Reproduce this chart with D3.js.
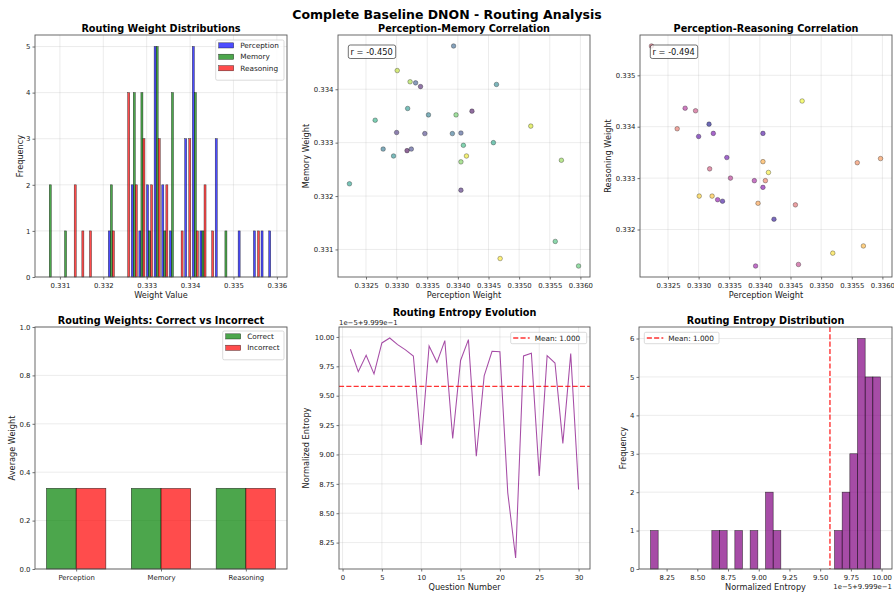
<!DOCTYPE html>
<html>
<head>
<meta charset="utf-8">
<script src="https://cdn.jsdelivr.net/npm/d3@7"></script>
<style>
  body { margin: 0; background: #fff; }
  svg { display: block; }
  text { font-family: "DejaVu Sans", sans-serif; }
</style>
</head>
<body>
<svg id="chart" width="894" height="592"></svg>
<script>
// ---- Data: one entry per evaluated question (questions 1..30) ----
const questionNumbers = d3.range(1, 31);

const perceptionWeights = [
  0.33317, 0.33423, 0.33339, 0.33405, 0.33300, 0.33346, 0.33324, 0.33405, 0.33331, 0.33393,
  0.33391, 0.33278, 0.33352, 0.33463, 0.33295, 0.33318, 0.33223, 0.33458, 0.33265, 0.33409,
  0.33559, 0.33597, 0.33397, 0.33405, 0.33569, 0.33322, 0.33301, 0.33519, 0.33414, 0.33469
];
const memoryWeights = [
  0.33285, 0.33359, 0.33405, 0.33211, 0.33319, 0.33317, 0.33288, 0.33318, 0.33412, 0.33481,
  0.33317, 0.33288, 0.33352, 0.33409, 0.33275, 0.33364, 0.33223, 0.33300, 0.33342, 0.33295,
  0.33115, 0.33069, 0.33352, 0.33264, 0.33267, 0.33414, 0.33435, 0.33331, 0.33275, 0.33083
];
const reasoningWeights = [
  0.33405, 0.33220, 0.33255, 0.33387, 0.33381, 0.33340, 0.33387, 0.33282, 0.33258, 0.33129,
  0.33295, 0.33436, 0.33300, 0.33132, 0.33431, 0.33318, 0.33557, 0.33248, 0.33396, 0.33295,
  0.33330, 0.33338, 0.33251, 0.33332, 0.33168, 0.33265, 0.33265, 0.33154, 0.33311, 0.33450
];
// Normalized routing entropy per question
const routingEntropy = [
  0.99999895, 0.99999705, 0.99999844, 0.99999686, 0.99999949, 0.99999991, 0.99999935, 0.99999890, 0.99999838, 0.99999080,
  0.99999923, 0.99999784, 0.99999969, 0.99999136, 0.99999800, 0.99999977, 0.99998985, 0.99999668, 0.99999878, 0.99999875,
  0.99998673, 0.99998119, 0.99999838, 0.99999861, 0.99998818, 0.99999841, 0.99999778, 0.99999094, 0.99999858, 0.99998702
];

// Reported Pearson coefficients: perception vs memory, perception vs reasoning
const reportedCorrelations = [-0.450, -0.494];

const moduleNames = ["Perception", "Memory", "Reasoning"];
const correctAvgWeights = [0.3334, 0.3331, 0.3335];
const incorrectAvgWeights = [0.3335, 0.3330, 0.3334];

// Tick labels
const weightTicks = [0.331, 0.332, 0.333, 0.334, 0.335, 0.336];
const countTicks5 = [0, 1, 2, 3, 4, 5];
const countTicks6 = [0, 1, 2, 3, 4, 5, 6];
const perceptionTicks = [0.3325, 0.3330, 0.3335, 0.3340, 0.3345, 0.3350, 0.3355, 0.3360];
const memoryTicks = [0.331, 0.332, 0.333, 0.334];
const reasoningTicks = [0.332, 0.333, 0.334, 0.335];
const avgWeightTicks = [0.0, 0.2, 0.4, 0.6, 0.8, 1.0];
const questionTicks = [0, 5, 10, 15, 20, 25, 30];
const entropyTicks = [8.25, 8.50, 8.75, 9.00, 9.25, 9.50, 9.75, 10.00];
const entropyOffset = 0.9999, entropyScale = 1e-5;
const entropyOffsetLabel = "1e\u22125+9.999e\u22121";

// ---- Layout ----
const FONT = '"DejaVu Sans", sans-serif';
const TICK_FS = 6.9, LABEL_FS = 8.2, TITLE_FS = 9.7, LEGEND_FS = 7.3;
const layout = {
  hist:  { x: 35,  y: 35,  w: 252, h: 242 },
  pm:    { x: 338, y: 35,  w: 252, h: 242 },
  pr:    { x: 640, y: 35,  w: 252, h: 242 },
  bars:  { x: 35,  y: 327, w: 252, h: 242 },
  line:  { x: 339, y: 327, w: 251, h: 242 },
  ehist: { x: 639, y: 327, w: 253, h: 242 }
};

const svg = d3.select("#chart");
svg.append("rect").attr("width", 894).attr("height", 592).attr("fill", "#fff");

svg.append("text")
  .attr("x", 447).attr("y", 14.5).attr("dominant-baseline", "central")
  .attr("text-anchor", "middle").attr("font-weight", "bold").attr("font-size", 12.5)
  .text("Complete Baseline DNON - Routing Analysis");

function panel(r) {
  return svg.append("g").attr("transform", `translate(${r.x},${r.y})`);
}

function grid(g, r, x, y, xTicks, yTicks) {
  const gg = g.append("g");
  (xTicks || []).forEach(t => gg.append("line")
    .attr("x1", x(t)).attr("x2", x(t)).attr("y1", 0).attr("y2", r.h)
    .attr("stroke", "#b0b0b0").attr("stroke-opacity", 0.3).attr("stroke-width", 0.8));
  (yTicks || []).forEach(t => gg.append("line")
    .attr("y1", y(t)).attr("y2", y(t)).attr("x1", 0).attr("x2", r.w)
    .attr("stroke", "#b0b0b0").attr("stroke-opacity", 0.3).attr("stroke-width", 0.8));
}

function axes(g, r, x, y, o) {
  const xa = g.append("g").attr("transform", `translate(0,${r.h})`)
    .call(d3.axisBottom(x).tickValues(o.xTicks).tickFormat(o.xFormat).tickSize(2.5).tickPadding(3.6));
  const ya = g.append("g")
    .call(d3.axisLeft(y).tickValues(o.yTicks).tickFormat(o.yFormat).tickSize(2.5).tickPadding(2));
  [xa, ya].forEach(a => {
    a.attr("font-family", FONT).attr("font-size", TICK_FS);
    a.select(".domain").remove();
    a.selectAll("line").attr("stroke", "#333").attr("stroke-width", 0.7);
    a.selectAll("text").attr("fill", "#222");
  });
  g.append("rect").attr("x", 0).attr("y", 0).attr("width", r.w).attr("height", r.h)
    .attr("fill", "none").attr("stroke", "#5a5a5a").attr("stroke-width", 0.9);
}

function title(r, text, cy) {
  svg.append("text").attr("x", r.x + r.w / 2).attr("y", cy)
    .attr("dominant-baseline", "central").attr("text-anchor", "middle")
    .attr("font-weight", "bold").attr("font-size", TITLE_FS).text(text);
}
function xlabel(r, text, cy) {
  svg.append("text").attr("x", r.x + r.w / 2).attr("y", cy)
    .attr("dominant-baseline", "central").attr("text-anchor", "middle")
    .attr("font-size", LABEL_FS).attr("fill", "#222").text(text);
}
function ylabel(r, text, cx) {
  const cy = r.y + r.h / 2;
  svg.append("text").attr("transform", `translate(${cx},${cy}) rotate(-90)`)
    .attr("dominant-baseline", "central").attr("text-anchor", "middle")
    .attr("font-size", LABEL_FS).attr("fill", "#222").text(text);
}

function legendBox(g, x0, y0, w, h) {
  g.append("rect").attr("x", x0).attr("y", y0).attr("width", w).attr("height", h)
    .attr("rx", 1.5).attr("fill", "#fff").attr("fill-opacity", 0.8)
    .attr("stroke", "#cccccc").attr("stroke-width", 0.7);
}
function legendPatches(g, x0, y0, w, items) {
  legendBox(g, x0, y0, w, 6 + items.length * 11.4);
  items.forEach((it, i) => {
    const cy = y0 + 5.4 + i * 11.4;
    g.append("rect").attr("x", x0 + 3).attr("y", cy - 2.6).attr("width", 15).attr("height", 5.2)
      .attr("fill", it.color).attr("fill-opacity", 0.7)
      .attr("stroke", "#000").attr("stroke-opacity", 0.7).attr("stroke-width", 0.5);
    g.append("text").attr("x", x0 + 24.5).attr("y", cy).attr("dominant-baseline", "central")
      .attr("font-size", LEGEND_FS).attr("fill", "#222").text(it.label);
  });
}
function legendDash(g, x0, y0, w, label) {
  legendBox(g, x0, y0, w, 11.4);
  const cy = y0 + 5.7;
  g.append("line").attr("x1", x0 + 2.5).attr("x2", x0 + 19).attr("y1", cy).attr("y2", cy)
    .attr("stroke", "red").attr("stroke-opacity", 0.8).attr("stroke-width", 1.4)
    .attr("stroke-dasharray", "5.1,2.2");
  g.append("text").attr("x", x0 + 24).attr("y", cy).attr("dominant-baseline", "central")
    .attr("font-size", LEGEND_FS).attr("fill", "#222").text(label);
}

const padded = (ext, f = 0.05) => [ext[0] - (ext[1] - ext[0]) * f, ext[1] + (ext[1] - ext[0]) * f];
function equalBins(values, lo, hi, n) {
  const edges = d3.range(1, n).map(i => lo + (hi - lo) * i / n);
  return d3.bin().domain([lo, hi]).thresholds(edges)(values);
}

// ---- 1. Routing weight distributions (side-by-side histogram, 30 bins) ----
(function () {
  const r = layout.hist, g = panel(r);
  const seriesValues = [perceptionWeights, memoryWeights, reasoningWeights];
  const colors = ["blue", "green", "red"];
  const [lo, hi] = d3.extent(seriesValues.flat());
  const bins = seriesValues.map(v => equalBins(v, lo, hi, 30));
  const x = d3.scaleLinear().domain(padded([lo, hi])).range([0, r.w]);
  const yMax = d3.max(bins.flat(), b => b.length);
  const y = d3.scaleLinear().domain([0, yMax * 1.05]).range([r.h, 0]);
  grid(g, r, x, y, weightTicks, countTicks5);
  const sub = 0.8 / 3;
  bins.forEach((bs, j) => {
    g.append("g").selectAll("rect").data(bs.filter(b => b.length > 0)).join("rect")
      .attr("x", b => x(b.x0) + (x(b.x1) - x(b.x0)) * (0.1 + j * sub))
      .attr("width", b => (x(b.x1) - x(b.x0)) * sub)
      .attr("y", b => y(b.length)).attr("height", b => y(0) - y(b.length))
      .attr("fill", colors[j]).attr("fill-opacity", 0.7)
      .attr("stroke", "#000").attr("stroke-opacity", 0.7).attr("stroke-width", 0.5);
  });
  axes(g, r, x, y, { xTicks: weightTicks, xFormat: d3.format(".3f"), yTicks: countTicks5, yFormat: d3.format("d") });
  legendPatches(g, 180.7, 5, 68.3, moduleNames.map((m, i) => ({ label: m, color: colors[i] })));
  title(r, "Routing Weight Distributions", 28);
  xlabel(r, "Weight Value", 295.3);
  ylabel(r, "Frequency", 20);
})();

// ---- 2 & 3. Correlation scatter plots ----
function scatter(r, yValues, yTicks, yName, colormap, titleText, ylabelX, coef) {
  const g = panel(r);
  const x = d3.scaleLinear().domain(padded(d3.extent(perceptionWeights))).range([0, r.w]);
  const y = d3.scaleLinear().domain(padded(d3.extent(yValues))).range([r.h, 0]);
  grid(g, r, x, y, perceptionTicks, yTicks);
  const n = questionNumbers.length;
  g.append("g").selectAll("circle").data(questionNumbers).join("circle")
    .attr("cx", (q, i) => x(perceptionWeights[i]))
    .attr("cy", (q, i) => y(yValues[i]))
    .attr("r", 2.3)
    .attr("fill", (q, i) => colormap(i / (n - 1))).attr("fill-opacity", 0.6)
    .attr("stroke", "#000").attr("stroke-opacity", 0.6).attr("stroke-width", 0.5);
  axes(g, r, x, y, { xTicks: perceptionTicks, xFormat: d3.format(".4f"), yTicks: yTicks, yFormat: d3.format(".3f") });
  const box = g.append("g");
  box.append("rect").attr("x", 10.3).attr("y", 10).attr("width", 47.4).attr("height", 13.5)
    .attr("rx", 2).attr("fill", "#fff").attr("fill-opacity", 0.8)
    .attr("stroke", "#000").attr("stroke-opacity", 0.8).attr("stroke-width", 0.7);
  box.append("text").attr("x", 12.6).attr("y", 16.8).attr("dominant-baseline", "central")
    .attr("font-size", 8.25).attr("fill", "#111").text(`r = ${coef.toFixed(3)}`);
  title(r, titleText, 28);
  xlabel(r, "Perception Weight", 295.3);
  ylabel(r, yName, ylabelX);
}
scatter(layout.pm, memoryWeights, memoryTicks, "Memory Weight", d3.interpolateViridis,
  "Perception-Memory Correlation", 306, reportedCorrelations[0]);
scatter(layout.pr, reasoningWeights, reasoningTicks, "Reasoning Weight", d3.interpolatePlasma,
  "Perception-Reasoning Correlation", 608, reportedCorrelations[1]);

// ---- 4. Average routing weights: correct vs incorrect ----
(function () {
  const r = layout.bars, g = panel(r);
  const barW = 0.35;
  const pos = moduleNames.map((m, i) => i);
  const x = d3.scaleLinear().domain(padded([-barW, pos.length - 1 + barW])).range([0, r.w]);
  const y = d3.scaleLinear().domain([0, 1]).range([r.h, 0]);
  grid(g, r, x, y, [], avgWeightTicks);
  const groups = [
    { values: correctAvgWeights, color: "green", shift: -barW / 2, label: "Correct" },
    { values: incorrectAvgWeights, color: "red", shift: barW / 2, label: "Incorrect" }
  ];
  groups.forEach(s => {
    g.append("g").selectAll("rect").data(pos).join("rect")
      .attr("x", i => x(i + s.shift - barW / 2)).attr("width", x(barW) - x(0))
      .attr("y", i => y(s.values[i])).attr("height", i => y(0) - y(s.values[i]))
      .attr("fill", s.color).attr("fill-opacity", 0.7)
      .attr("stroke", "#000").attr("stroke-opacity", 0.7).attr("stroke-width", 0.6);
  });
  axes(g, r, x, y, { xTicks: pos, xFormat: i => moduleNames[i], yTicks: avgWeightTicks, yFormat: d3.format(".1f") });
  legendPatches(g, 187.7, 4, 61.3, groups.map(s => ({ label: s.label, color: s.color })));
  title(r, "Routing Weights: Correct vs Incorrect", 320);
  ylabel(r, "Average Weight", 11.7);
})();

// ---- 5. Routing entropy per question ----
const entropyMean = d3.mean(routingEntropy);
const entropyExtent = padded(d3.extent(routingEntropy));
const entropyTickValues = entropyTicks.map(t => entropyOffset + t * entropyScale);
const entropyFormat = v => ((v - entropyOffset) / entropyScale).toFixed(2);
(function () {
  const r = layout.line, g = panel(r);
  const x = d3.scaleLinear().domain(padded(d3.extent(questionNumbers))).range([0, r.w]);
  const y = d3.scaleLinear().domain(entropyExtent).range([r.h, 0]);
  grid(g, r, x, y, questionTicks, entropyTickValues);
  g.append("path").datum(questionNumbers)
    .attr("d", d3.line().x(q => x(q)).y((q, i) => y(routingEntropy[i])))
    .attr("fill", "none").attr("stroke", "purple").attr("stroke-opacity", 0.7).attr("stroke-width", 1.05);
  g.append("line").attr("x1", 0).attr("x2", r.w).attr("y1", y(entropyMean)).attr("y2", y(entropyMean))
    .attr("stroke", "red").attr("stroke-opacity", 0.8).attr("stroke-width", 1.4).attr("stroke-dasharray", "5.1,2.2");
  axes(g, r, x, y, { xTicks: questionTicks, xFormat: d3.format("d"), yTicks: entropyTickValues, yFormat: entropyFormat });
  legendDash(g, 171.7, 5.3, 76, `Mean: ${entropyMean.toFixed(3)}`);
  svg.append("text").attr("x", r.x).attr("y", 323.3).attr("dominant-baseline", "central")
    .attr("font-size", TICK_FS).attr("fill", "#222").text(entropyOffsetLabel);
  title(r, "Routing Entropy Evolution", 312.3);
  xlabel(r, "Question Number", 587.3);
  ylabel(r, "Normalized Entropy", 306);
})();

// ---- 6. Routing entropy distribution ----
(function () {
  const r = layout.ehist, g = panel(r);
  const [lo, hi] = d3.extent(routingEntropy);
  const bins = equalBins(routingEntropy, lo, hi, 30);
  const x = d3.scaleLinear().domain(entropyExtent).range([0, r.w]);
  const y = d3.scaleLinear().domain([0, d3.max(bins, b => b.length) * 1.05]).range([r.h, 0]);
  grid(g, r, x, y, [], countTicks6);
  g.append("g").selectAll("rect").data(bins.filter(b => b.length > 0)).join("rect")
    .attr("x", b => x(b.x0)).attr("width", b => x(b.x1) - x(b.x0))
    .attr("y", b => y(b.length)).attr("height", b => y(0) - y(b.length))
    .attr("fill", "purple").attr("fill-opacity", 0.7)
    .attr("stroke", "#000").attr("stroke-opacity", 0.7).attr("stroke-width", 0.6);
  g.append("line").attr("x1", x(entropyMean)).attr("x2", x(entropyMean)).attr("y1", 0).attr("y2", r.h)
    .attr("stroke", "red").attr("stroke-opacity", 0.8).attr("stroke-width", 1.4).attr("stroke-dasharray", "5.1,2.2");
  axes(g, r, x, y, { xTicks: entropyTickValues, xFormat: entropyFormat, yTicks: countTicks6, yFormat: d3.format("d") });
  legendDash(g, 5.3, 5.3, 74.7, `Mean: ${entropyMean.toFixed(3)}`);
  svg.append("text").attr("x", r.x + r.w).attr("y", 587.3).attr("dominant-baseline", "central")
    .attr("text-anchor", "end").attr("font-size", TICK_FS).attr("fill", "#222").text(entropyOffsetLabel);
  title(r, "Routing Entropy Distribution", 320);
  xlabel(r, "Normalized Entropy", 587.3);
  ylabel(r, "Frequency", 623);
})();
</script>
</body>
</html>
